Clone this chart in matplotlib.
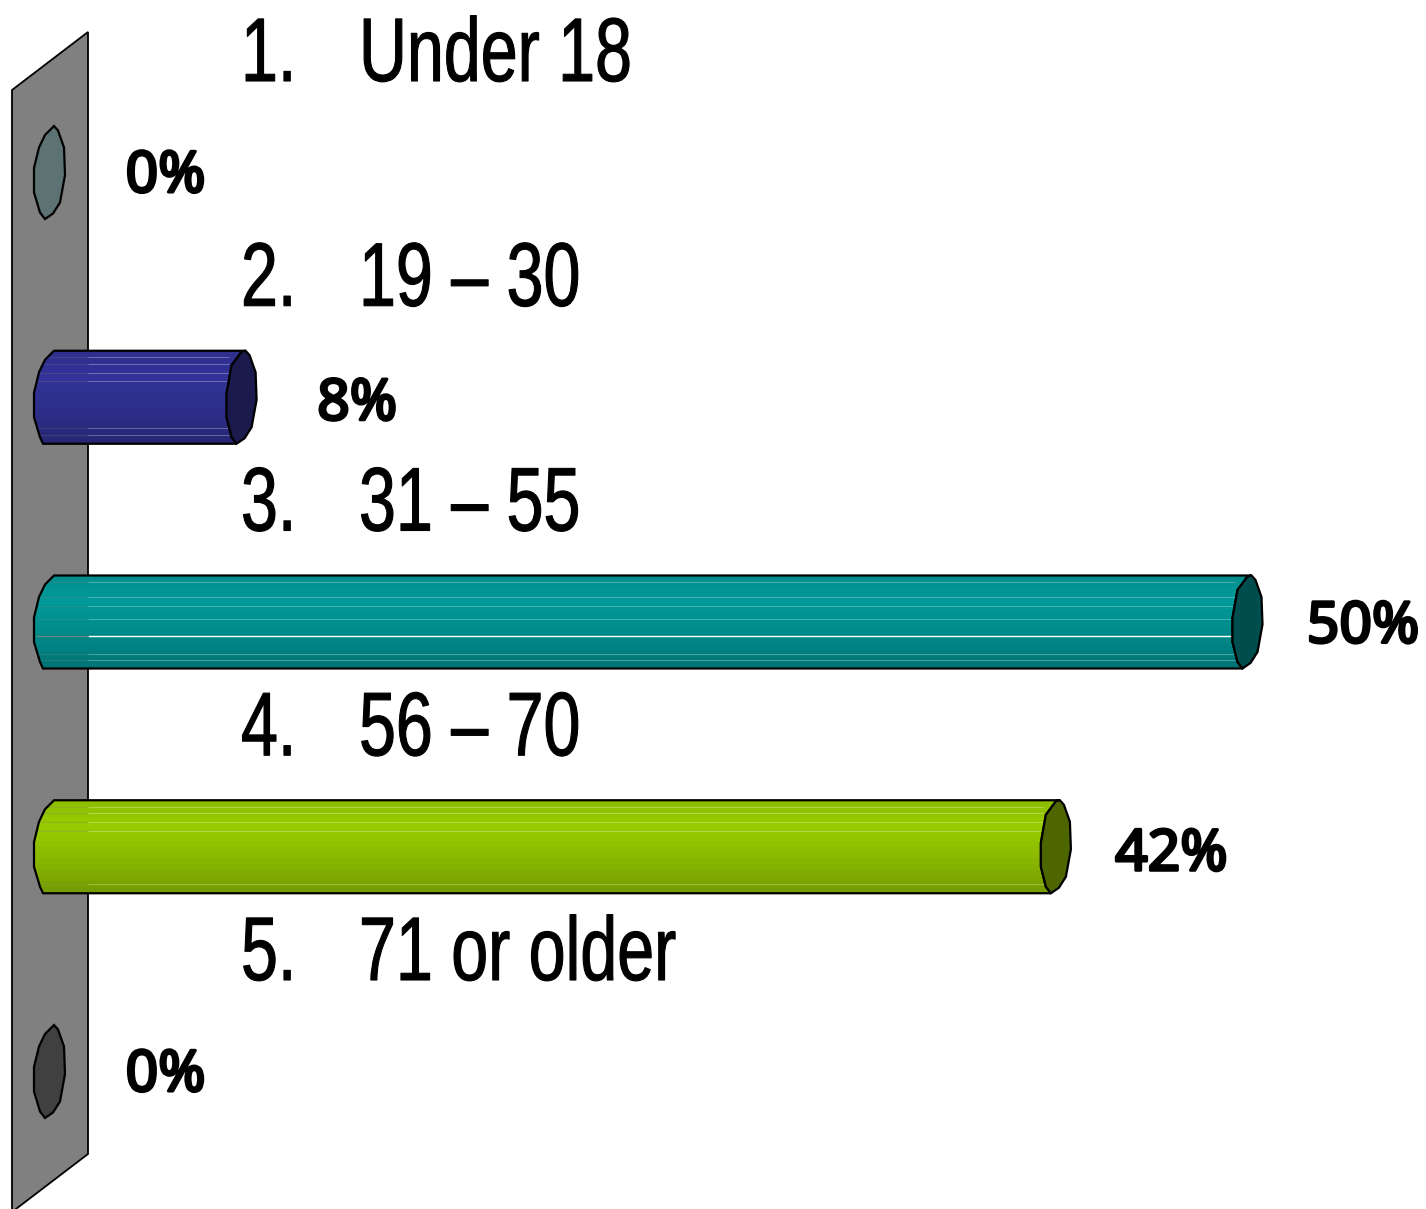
import numpy as np
import matplotlib
matplotlib.use("Agg")
import matplotlib.pyplot as plt
from matplotlib.patches import Polygon
from matplotlib.colors import to_rgb
from matplotlib.patheffects import AbstractPathEffect
from matplotlib.transforms import Affine2D

numbers = ["1.", "2.", "3.", "4.", "5."]
categories = ["Under 18", "19 – 30", "31 – 55", "56 – 70", "71 or older"]
values = [0, 8, 50, 42, 0]
value_labels = ["0%", "8%", "50%", "42%", "0%"]
bar_colors = ["#5D7373", "#333399", "#009999", "#99CC00", "#404040"]
cap_colors = ["#5D7373", "#1A1A4D", "#004D4D", "#4D6600", "#404040"]
highlights = [[], [6, 13, 22, 30, 77, 84], [7, 22, 31, 44, 61, 79, 85], [7, 13, 22, 31, 84], []]
strong_highlights = [[], [], [61], [], []]

W, H = 1426, 1209
PX_X, X0 = 23.95, 50.0
PX_Y, Y0 = 224.75, 172.5

fig = plt.figure(figsize=(W / 100, H / 100), dpi=100, facecolor="white")
ax = fig.add_axes([0, 0, 1, 1])
ax.set_xlim(-X0 / PX_X, (W - X0) / PX_X)
ax.set_ylim((H - Y0) / PX_Y, -Y0 / PX_Y)
ax.axis("off")

LW = 1.6
# pixel outline offsets around a bar end (dx, dy)
RIGHT_HALF = [(4, -46.5), (8, -42), (14, -25), (15, 2.5), (10, 30), (3, 41), (-5, 46.5)]
INNER_HALF = [(-10, 40), (-15, 20), (-15, -4), (-10, -32), (0, -45.5)]
LEFT_HALF = [(-7, 46.5), (-10, 40), (-16, 20), (-16, -4.5), (-11, -25), (-5, -37.5), (4, -46.5)]


class Glyphs(AbstractPathEffect):
    """Narrows and thickens the glyphs of a real text around its origin."""

    def __init__(self, sx=1.0, stroke=0.0):
        super().__init__()
        self.sx = sx
        self.stroke = stroke

    def draw_path(self, renderer, gc, tpath, affine, rgbFace=None):
        gc0 = renderer.new_gc()
        gc0.copy_properties(gc)
        gc0.set_linewidth(self.stroke)
        gc0.set_foreground("black")
        renderer.draw_path(gc0, tpath, Affine2D().scale(self.sx, 1) + affine, rgbFace)
        gc0.restore()


def pts(v, i, offs):
    return [(v + dx / PX_X, i + dy / PX_Y) for dx, dy in offs]


def shade(frac):
    return np.interp(frac, [0, 0.08, 0.28, 0.55, 1.0], [0.92, 0.95, 1.0, 0.93, 0.76])


# wall
wall_px = [(12, 90), (88, 32), (88, 1154), (12, 1212)]
wall = Polygon([((x - X0) / PX_X, (y - Y0) / PX_Y) for x, y in wall_px], closed=True,
               facecolor="#808080", edgecolor="black", lw=1.3, joinstyle="miter", zorder=1)
ax.add_patch(wall)
wall_x = (88 - X0) / PX_X

for i, v in enumerate(values):
    if v > 0:
        outline = pts(0, i, LEFT_HALF) + pts(v, i, [(4, -46.5)]) + pts(v, i, INNER_HALF[::-1]) + pts(v, i, [(-5, 46.5)])
        body = Polygon(outline, closed=True, facecolor="none", edgecolor="none", zorder=2)
        ax.add_patch(body)
        levels = 16
        fr = (np.arange(levels) + 0.5) / levels
        base = np.array(to_rgb(bar_colors[i]))
        img = np.clip(shade(fr)[:, None, None] * base[None, None, :], 0, 1)
        im = ax.imshow(img, extent=(-16 / PX_X, v + 20 / PX_X, i + 46.5 / PX_Y, i - 46.5 / PX_Y),
                       aspect="auto", interpolation="nearest", zorder=2)
        im.set_clip_path(body)
        # thin highlight lines, dim over the wall section
        for off in highlights[i]:
            y = i + (off - 46.5) / PX_Y
            strong = off in strong_highlights[i]
            ax.plot([wall_x, v - 13 / PX_X], [y, y], color="white", lw=1.0 if strong else 0.7,
                    alpha=1.0 if strong else 0.3, solid_capstyle="butt", zorder=3)
            ax.plot([-14 / PX_X, wall_x], [y, y], color="#808080", lw=0.8,
                    alpha=0.9 if strong else 0.25, solid_capstyle="butt", zorder=3)
        ax.add_patch(Polygon(outline, closed=True, facecolor="none", edgecolor="black", lw=LW, zorder=4))
        cap = Polygon(pts(v, i, RIGHT_HALF + INNER_HALF), closed=True, facecolor=cap_colors[i],
                      edgecolor="black", lw=LW, zorder=5)
        ax.add_patch(cap)
    else:
        disc = Polygon(pts(0, i, RIGHT_HALF + LEFT_HALF[1:-1]), closed=True, facecolor=cap_colors[i],
                       edgecolor="black", lw=LW, zorder=5)
        ax.add_patch(disc)

label_font = ["Liberation Sans", "DejaVu Sans"]
value_font = ["Noto Sans", "DejaVu Sans"]
value_dy = [19.5, 22.5, 20.5, 23.5, 19.5]

for i, (n, c) in enumerate(zip(numbers, categories)):
    y = i - 91.5 / PX_Y
    for px, s in ((241, n), (359, c)):
        ax.text((px - X0) / PX_X, y, s, family=label_font, fontsize=65, va="baseline", ha="left",
                color="black", zorder=6, path_effects=[Glyphs(0.735, 0.8)])

for i, (v, t) in enumerate(zip(values, value_labels)):
    ax.text(v + 115.5 / PX_X, i + value_dy[i] / PX_Y, t, family=value_font,
            fontsize=41, ha="center", va="baseline", color="black", zorder=6,
            path_effects=[Glyphs(1.0, 2.2)])

fig.savefig("out.png", dpi=100, facecolor="white")
